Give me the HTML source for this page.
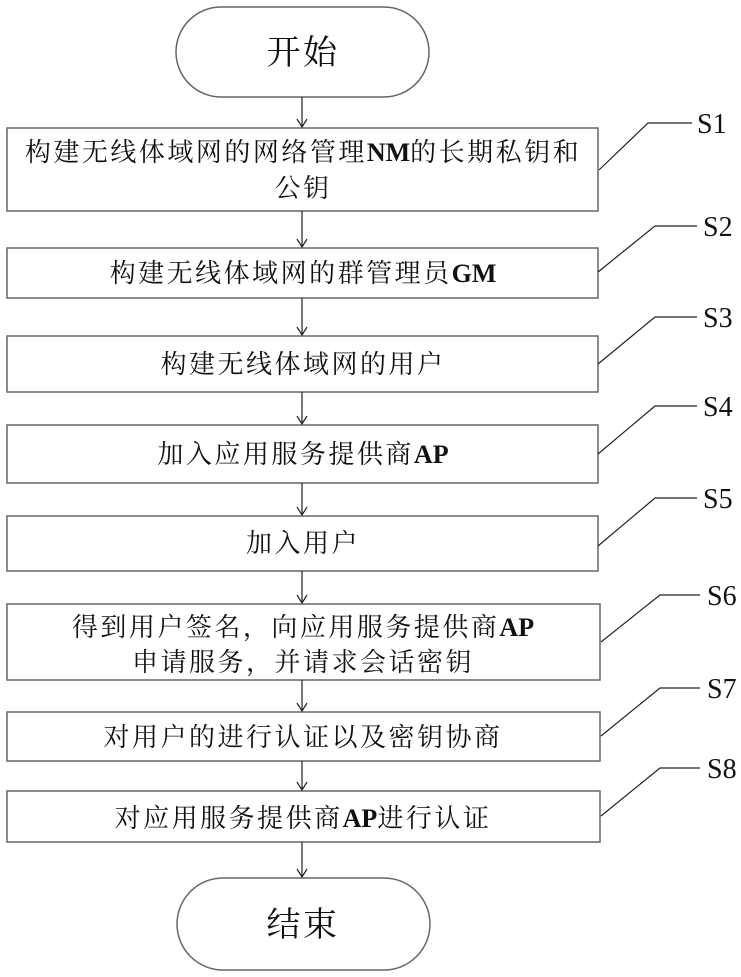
<!DOCTYPE html>
<html><head><meta charset="utf-8"><style>
html,body{margin:0;padding:0;background:#fff;}
svg{display:block;}
.t{font-family:"Liberation Serif","Noto Serif CJK SC",serif;font-size:26px;letter-spacing:2.5px;fill:#111;text-anchor:middle;}
.t tspan{letter-spacing:0;}
.s{font-family:"Liberation Serif",serif;font-size:28px;fill:#111;}
</style></head><body>
<svg width="741" height="977" viewBox="0 0 741 977" xmlns="http://www.w3.org/2000/svg">
<g fill="#fff" stroke="#666" stroke-width="1.5">
<rect x="176" y="7" width="253" height="90" rx="45"/>
<rect x="7" y="128" width="591" height="83"/>
<rect x="7" y="248" width="591" height="50"/>
<rect x="7" y="336" width="591" height="56"/>
<rect x="7" y="425" width="591" height="58"/>
<rect x="7" y="516" width="591" height="55"/>
<rect x="7" y="604" width="593" height="76"/>
<rect x="7" y="712" width="593" height="49"/>
<rect x="7" y="791" width="593" height="51"/>
<rect x="177" y="878" width="253" height="92" rx="46"/>
</g>
<g stroke="#222" stroke-width="1.2" fill="none">
<path d="M302,97 V127 M297,119 L302,127 L307,119"/>
<path d="M302,211 V247 M297,239 L302,247 L307,239"/>
<path d="M302,298 V335 M297,327 L302,335 L307,327"/>
<path d="M302,392 V424 M297,416 L302,424 L307,416"/>
<path d="M302,483 V515 M297,507 L302,515 L307,507"/>
<path d="M302,571 V603 M297,595 L302,603 L307,595"/>
<path d="M302,680 V711 M297,703 L302,711 L307,703"/>
<path d="M302,761 V790 M297,782 L302,790 L307,782"/>
<path d="M302,842 V877 M297,869 L302,877 L307,869"/>
<polyline points="599,170 648,123 692,123"/>
<polyline points="598,272 655,226 697,226"/>
<polyline points="598,364 655,317 697,317"/>
<polyline points="598,454 655,406 697,406"/>
<polyline points="598,546 655,498 697,498"/>
<polyline points="601,642 660,595 700,595"/>
<polyline points="601,736 660,688 700,688"/>
<polyline points="601,816 660,768 700,768"/>
</g>
<g class="s">
<text x="697" y="133">S1</text>
<text x="703" y="236">S2</text>
<text x="703" y="327">S3</text>
<text x="703" y="416">S4</text>
<text x="703" y="508">S5</text>
<text x="707" y="605">S6</text>
<text x="707" y="698">S7</text>
<text x="707" y="778">S8</text>
</g>
<text class="t" x="303" y="64" style="font-size:34px">开始</text>
<text class="t" x="303" y="161">构建无线体域网的网络管理<tspan font-weight="bold">NM</tspan>的长期私钥和</text>
<text class="t" x="303" y="197">公钥</text>
<text class="t" x="303" y="282">构建无线体域网的群管理员<tspan font-weight="bold">GM</tspan></text>
<text class="t" x="303" y="373">构建无线体域网的用户</text>
<text class="t" x="303" y="463">加入应用服务提供商<tspan font-weight="bold">AP</tspan></text>
<text class="t" x="303" y="552">加入用户</text>
<text class="t" x="303" y="636">得到用户签名，向应用服务提供商<tspan font-weight="bold">AP</tspan></text>
<text class="t" x="303" y="671">申请服务，并请求会话密钥</text>
<text class="t" x="303" y="746">对用户的进行认证以及密钥协商</text>
<text class="t" x="303" y="827">对应用服务提供商<tspan font-weight="bold">AP</tspan>进行认证</text>
<text class="t" x="303" y="936" style="font-size:34px">结束</text>
</svg>
</body></html>
